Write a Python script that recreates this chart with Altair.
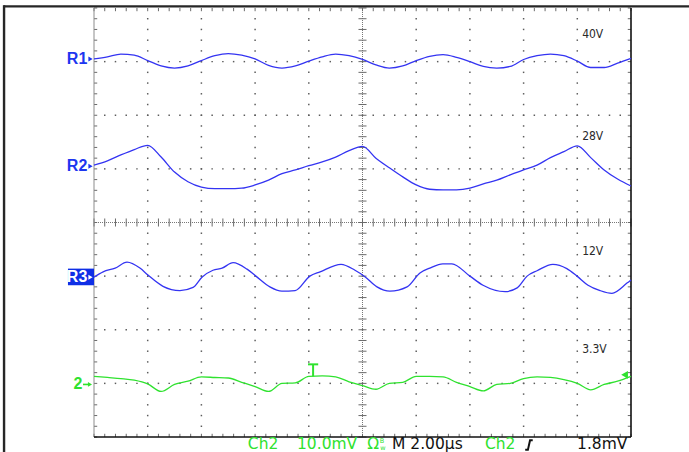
import altair as alt
import pandas as pd

# Horizontal axis: time in µs (2 µs/div, 10 div). Vertical axis: screen divisions (-4..4).
time_us = [-10.0, -9.5, -9.0, -8.5, -8.0, -7.5, -7.0, -6.5, -6.0, -5.5,
           -5.0, -4.5, -4.0, -3.5, -3.0, -2.5, -2.0, -1.5, -1.0, -0.5,
           0.0, 0.5, 1.0, 1.5, 2.0, 2.5, 3.0, 3.5, 4.0, 4.5,
           5.0, 5.5, 6.0, 6.5, 7.0, 7.5, 8.0, 8.5, 9.0, 9.5, 10.0]

# Trace offsets from each reference marker, in divisions
r1_div = [0.05, 0.09, 0.14, 0.12, 0.02, -0.08, -0.12, -0.08, 0.02, 0.11,
          0.15, 0.12, 0.05, -0.07, -0.12, -0.08, 0.01, 0.09, 0.14, 0.11,
          0.04, -0.06, -0.12, -0.08, 0.02, 0.10, 0.13, 0.08, 0.00, -0.09,
          -0.12, -0.09, 0.04, 0.11, 0.14, 0.11, 0.01, -0.11, -0.11, -0.03, 0.06]
r2_div = [0.07, 0.15, 0.26, 0.36, 0.44, 0.22, -0.06, -0.24, -0.34, -0.37,
          -0.37, -0.36, -0.30, -0.21, -0.09, -0.02, 0.06, 0.13, 0.22, 0.34,
          0.42, 0.20, 0.02, -0.15, -0.30, -0.38, -0.39, -0.39, -0.36, -0.28,
          -0.21, -0.11, -0.02, 0.07, 0.21, 0.32, 0.43, 0.21, -0.02, -0.19, -0.32]
ch2_div = [0.13, 0.11, 0.09, 0.06, -0.01, -0.15, -0.02, 0.04, 0.12, 0.11,
           0.10, 0.02, -0.06, -0.15, 0.00, 0.01, 0.13, 0.14, 0.12, 0.03,
           -0.04, -0.11, 0.00, 0.02, 0.13, 0.13, 0.12, 0.02, -0.06, -0.14,
           -0.02, 0.00, 0.09, 0.12, 0.11, 0.07, 0.00, -0.12, -0.02, 0.04, 0.13]

# R3 is read at its turning points and shoulders
r3_time_us = [-10.0, -9.66, -9.21, -8.77, -8.29, -7.99, -7.43, -6.80, -6.31, -5.98,
              -5.57, -5.23, -4.82, -4.30, -3.97, -3.45, -3.00, -2.51, -1.96, -1.58,
              -0.80, -0.28, 0.09, 0.54, 1.02, 1.66, 2.14, 2.51, 2.99, 3.33,
              4.00, 4.49, 5.31, 5.76, 6.13, 6.50, 7.09, 7.61, 7.99, 8.40,
              8.85, 9.29, 9.85, 10.0]
r3_div = [-0.02, 0.08, 0.15, 0.26, 0.15, 0.02, -0.19, -0.27, -0.21, -0.02,
          0.11, 0.15, 0.25, 0.13, 0.00, -0.20, -0.28, -0.27, 0.00, 0.08,
          0.22, 0.11, -0.01, -0.20, -0.28, -0.20, 0.06, 0.15, 0.23, 0.23,
          0.00, -0.17, -0.29, -0.22, 0.00, 0.10, 0.22, 0.14, 0.00, -0.17,
          -0.27, -0.32, -0.13, -0.07]

trace_names = ["R1", "R2", "R3", "2"]
trace_levels = [3, 1, -1, -3]
rail_labels = ["40V", "28V", "12V", "3.3V"]
rail_label_y = [3.52, 1.61, -0.53, -2.35]

BLUE_TRACE = "#3434f2"
BLUE_LABEL = "#1d36f0"
GREEN = "#2fe22f"
GRID = "#5c5c5c"

X = alt.Scale(domain=[-10, 10], nice=False, zero=False)
Y = alt.Scale(domain=[-4, 4], nice=False, zero=False)


def xy(df, **extra):
    enc = dict(x=alt.X("t:Q", scale=X, axis=None), y=alt.Y("y:Q", scale=Y, axis=None))
    enc.update(extra)
    return alt.Chart(df).encode(**enc)


# ---- traces ----
rows = []
series = [(time_us, r1_div), (time_us, r2_div), (r3_time_us, r3_div), (time_us, ch2_div)]
for name, level, (ts, vals) in zip(trace_names, trace_levels, series):
    for t, v in zip(ts, vals):
        rows.append({"trace": name, "t": t, "y": level + v})
traces = pd.DataFrame(rows)

blue_lines = xy(traces[traces.trace != "2"], detail="trace:N").mark_line(
    color=BLUE_TRACE, strokeWidth=1.3, interpolate="monotone")
green_line = xy(traces[traces.trace == "2"]).mark_line(
    color=GREEN, strokeWidth=1.3, interpolate="monotone")

# ---- graticule ----
minor_t = [-10 + 0.4 * k for k in range(51)]
minor_y = [-4 + 0.2 * k for k in range(41)]
dots = []
for yy in [-3, -2, -1, 1, 2, 3]:
    dots += [{"t": t, "y": yy} for t in minor_t[1:-1]]
for tt in [-8, -6, -4, -2, 2, 4, 6, 8]:
    dots += [{"t": tt, "y": yy} for yy in minor_y[1:-1]]
grid_dots = xy(pd.DataFrame(dots)).mark_square(size=2.2, color=GRID, opacity=1)

center = pd.DataFrame([{"t": -10, "y": 0, "t2": 10, "y2": 0},
                       {"t": 0, "y": -4, "t2": 0, "y2": 4}])
center_lines = xy(center, x2="t2:Q", y2="y2:Q").mark_rule(
    color="#777", strokeWidth=1, strokeDash=[1, 1])

ticks = []
for t in minor_t:
    ticks.append({"t": t, "y": -0.075, "t2": t, "y2": 0.075})      # centre horizontal
    ticks.append({"t": t, "y": 4, "t2": t, "y2": 3.94})            # top edge
    ticks.append({"t": t, "y": -4, "t2": t, "y2": -3.94})          # bottom edge
for yy in minor_y:
    ticks.append({"t": -0.15, "y": yy, "t2": 0.15, "y2": yy})      # centre vertical
    ticks.append({"t": -10, "y": yy, "t2": -9.88, "y2": yy})       # left edge
    ticks.append({"t": 10, "y": yy, "t2": 9.88, "y2": yy})         # right edge
tick_marks = xy(pd.DataFrame(ticks), x2="t2:Q", y2="y2:Q").mark_rule(color="#6a6a6a", strokeWidth=1)

edges_gray = xy(pd.DataFrame([{"t": -10, "y": -4, "t2": -10, "y2": 4}]),
                x2="t2:Q", y2="y2:Q").mark_rule(color="#8c8c8c", strokeWidth=1)
edges_dark = xy(pd.DataFrame([{"t": 10, "y": -4, "t2": 10, "y2": 4},
                              {"t": -10, "y": -4, "t2": 10, "y2": -4}]),
                x2="t2:Q", y2="y2:Q").mark_rule(color="#111", strokeWidth=1.6)

# screen frame
frame = xy(pd.DataFrame([{"t": -13.37, "y": 4.03, "t2": 12.2, "y2": 4.03},
                         {"t": -13.35, "y": 4.05, "t2": -13.35, "y2": -4.3}]),
           x2="t2:Q", y2="y2:Q").mark_rule(color="#262626", strokeWidth=2.4)

# ---- reference markers on the left ----
LABEL_FONT = "Liberation Sans"
r3_box = xy(pd.DataFrame([{"t": -10.97, "y": -0.86, "t2": -10.0, "y2": -1.17}]),
            x2="t2:Q", y2="y2:Q").mark_rect(color="#0f2fe6")

blue_names = pd.DataFrame([{"t": -10.25, "y": 3.05, "txt": "R1"},
                           {"t": -10.25, "y": 1.05, "txt": "R2"}])
blue_text = xy(blue_names, text="txt:N").mark_text(
    align="right", baseline="middle", font=LABEL_FONT, fontSize=16, fontWeight="bold",
    color=BLUE_LABEL)
r3_text = xy(pd.DataFrame([{"t": -10.25, "y": -1.02, "txt": "R3"}]), text="txt:N").mark_text(
    align="right", baseline="middle", font=LABEL_FONT, fontSize=16, fontWeight="bold",
    color="white")
blue_tri = xy(pd.DataFrame([{"t": -10.13, "y": 3.05}, {"t": -10.13, "y": 1.05}])).mark_point(
    shape="triangle-right", size=24, filled=True, color=BLUE_LABEL, opacity=1)
white_tri = xy(pd.DataFrame([{"t": -10.13, "y": -1.02}])).mark_point(
    shape="triangle-right", size=24, filled=True, color="white", opacity=1)

ch2_text = xy(pd.DataFrame([{"t": -10.43, "y": -3.02, "txt": "2"}]), text="txt:N").mark_text(
    align="right", baseline="middle", font=LABEL_FONT, fontSize=16, fontWeight="bold",
    color=GREEN)
ch2_arrow_line = xy(pd.DataFrame([{"t": -10.41, "y": -3.02, "t2": -10.2, "y2": -3.02}]),
                    x2="t2:Q", y2="y2:Q").mark_rule(color=GREEN, strokeWidth=1.6)
ch2_arrow_head = xy(pd.DataFrame([{"t": -10.15, "y": -3.02}])).mark_point(
    shape="triangle-right", size=22, filled=True, color=GREEN, opacity=1)

# trigger position "T" and trigger level arrow
trig_rules = xy(pd.DataFrame([{"t": -1.84, "y": -2.645, "t2": -1.84, "y2": -2.87},
                              {"t": -2.03, "y": -2.645, "t2": -1.65, "y2": -2.645}]),
                x2="t2:Q", y2="y2:Q").mark_rule(color=GREEN, strokeWidth=2)
trig_level = xy(pd.DataFrame([{"t": 9.76, "y": -2.84}])).mark_point(
    shape="triangle-left", size=60, filled=True, color=GREEN, opacity=1)

# ---- rail names on the right ----
rails = pd.DataFrame({"t": [8.18] * 4, "y": rail_label_y, "txt": rail_labels})
rail_text = xy(rails, text="txt:N").mark_text(
    align="left", baseline="middle", font="DejaVu Sans Condensed", fontSize=12, color="#2a2a2a")

# ---- status line ----
STATUS_Y = -4.28
status_green = pd.DataFrame([{"t": -4.27, "y": STATUS_Y, "txt": "Ch2"},
                             {"t": -2.44, "y": STATUS_Y, "txt": "10.0mV"},
                             {"t": 0.18, "y": STATUS_Y, "txt": "Ω"},
                             {"t": 4.56, "y": STATUS_Y, "txt": "Ch2"}])
status_g = xy(status_green, text="txt:N").mark_text(
    align="left", baseline="bottom", font="DejaVu Sans", fontSize=15.5, color=GREEN)
bw = xy(pd.DataFrame([{"t": 0.64, "y": -4.13, "txt": "B"}, {"t": 0.66, "y": -4.27, "txt": "w"}]),
        text="txt:N").mark_text(align="left", baseline="bottom", font="DejaVu Sans",
                                fontSize=6.5, color=GREEN)
status_black = pd.DataFrame([{"t": 1.10, "y": STATUS_Y, "txt": "M 2.00µs"},
                             {"t": 7.99, "y": STATUS_Y, "txt": "1.8mV"}])
status_k = xy(status_black, text="txt:N").mark_text(
    align="left", baseline="bottom", font="DejaVu Sans", fontSize=15.5, color="#111")

# rising-edge trigger slope symbol
slope = xy(pd.DataFrame([{"t": 6.06, "y": -4.24}, {"t": 6.16, "y": -4.24},
                         {"t": 6.24, "y": -4.06}, {"t": 6.34, "y": -4.06}]),
           order="t:Q").mark_line(color="#111", strokeWidth=2)

chart = alt.layer(
    grid_dots, center_lines, tick_marks, edges_gray, edges_dark, frame,
    blue_lines, green_line,
    r3_box, blue_text, r3_text, blue_tri, white_tri,
    ch2_text, ch2_arrow_line, ch2_arrow_head, trig_rules, trig_level,
    rail_text, status_g, bw, status_k, slope,
).properties(
    width=537, height=429,
    padding={"left": 94, "top": 8, "right": 58, "bottom": 15},
    autosize=alt.AutoSizeParams(type="none"),
    background="white",
).configure_view(stroke=None)

chart.save("out.html", embed_options={"renderer": "svg", "actions": False})
